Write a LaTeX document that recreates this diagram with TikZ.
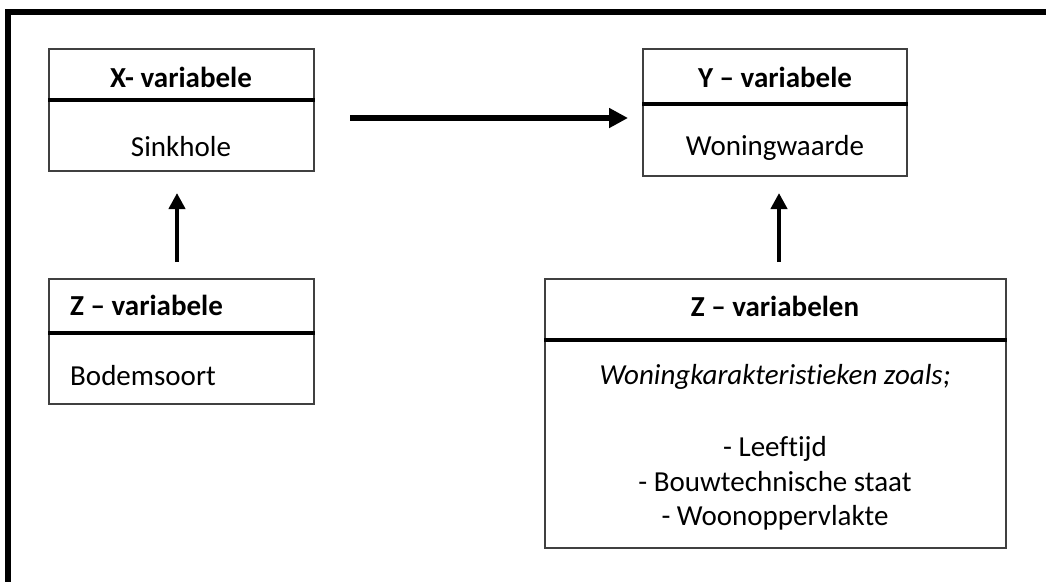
\documentclass[tikz,border=0pt]{standalone}
\usepackage{fontspec}
\setmainfont{Carlito}[Ligatures=NoCommon]
\usetikzlibrary{arrows.meta}
\tikzset{
  box/.style={draw=black!75, line width=1.8pt, rectangle, inner sep=0pt},
  divider/.style={line width=4.5pt, black},
  frameline/.style={line width=6pt, black, line join=miter},
  lbl/.style={inner sep=0pt, anchor=base, font=\fontsize{29}{35}\selectfont},
  lblleft/.style={lbl, anchor=base west},
  harrow/.style={line width=5.5pt, -{Triangle[length=19pt,width=19pt]}},
  varrow/.style={line width=4.2pt, -{Triangle[length=16pt,width=16pt]}},
}
\begin{document}
\begin{tikzpicture}[x=1pt,y=-1pt]
  \useasboundingbox (0,0) rectangle (1046,581);
  % outer frame (left and top edges)
  \draw[frameline] (8,585) -- (8,11.5) -- (1050,11.5);

  % X variable box
  \node[box, minimum width=265pt, minimum height=122pt] (xb) at (181.5,110) {};
  \draw[divider] (xb.west |- 0,100) -- (xb.east |- 0,100);
  \node[lbl] (xt) at (181,87) {\textbf{X- variabele}};
  \node[lbl] (xv) at (181,156) {Sinkhole};

  % Y variable box
  \node[box, minimum width=264pt, minimum height=127pt] (yb) at (775,112.5) {};
  \draw[divider] (yb.west |- 0,104) -- (yb.east |- 0,104);
  \node[lbl] (yt) at (775,87) {\textbf{Y – variabele}};
  \node[lbl] (yv) at (775,155) {Woningwaarde};

  % Z variable box (left)
  \node[box, minimum width=265pt, minimum height=125pt] (zl) at (181.5,341.5) {};
  \draw[divider] (zl.west |- 0,333) -- (zl.east |- 0,333);
  \node[lblleft] (zlt) at (70,315) {\textbf{Z – variabele}};
  \node[lblleft] (zlv) at (70,385) {Bodemsoort};

  % Z variables box (right)
  \node[box, minimum width=461pt, minimum height=269pt] (zr) at (775.5,413.5) {};
  \draw[divider] (zr.west |- 0,340) -- (zr.east |- 0,340);
  \node[lbl] (zrt) at (775,316) {\textbf{Z – variabelen}};
  \node[lbl] (zri) at (775,384) {\textit{Woningkarakteristieken zoals;}};
  \node[lbl] (zr1) at (775,456) {- Leeftijd};
  \node[lbl] (zr2) at (775,491) {- Bouwtechnische staat};
  \node[lbl] (zr3) at (775,525) {- Woonoppervlakte};

  % connector end points
  \coordinate (hs) at (350,118);
  \coordinate (he) at (628,118);
  \coordinate (ls) at (177,262);
  \coordinate (le) at (177,193);
  \coordinate (rs) at (779,262);
  \coordinate (re) at (779,193);

  \draw[harrow] (hs) -- (he);
  \draw[varrow] (ls) -- (le);
  \draw[varrow] (rs) -- (re);
\end{tikzpicture}
\end{document}
